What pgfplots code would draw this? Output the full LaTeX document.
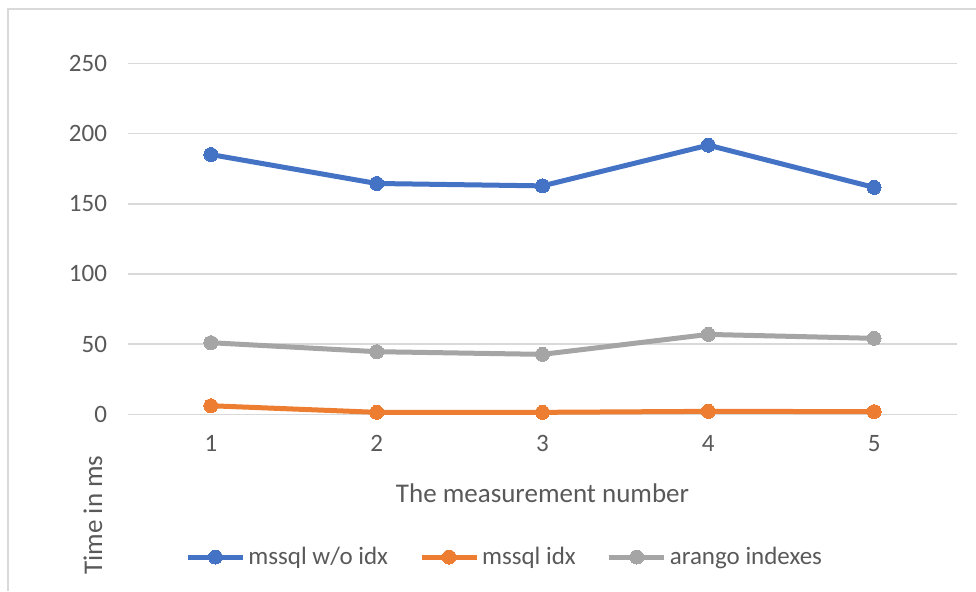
\documentclass[border=0pt]{standalone}
\usepackage{pgfplots}
\pgfplotsset{compat=1.18}
\usepackage{fontspec}
\setmainfont{Carlito}

\definecolor{seriesblue}{HTML}{4472C4}
\definecolor{seriesorange}{HTML}{ED7D31}
\definecolor{seriesgray}{HTML}{A5A5A5}
\definecolor{labelgray}{HTML}{595959}
\definecolor{gridgray}{HTML}{D9D9D9}

\begin{document}
\begin{tikzpicture}
% chart area and its frame
\path[use as bounding box] (0,0) rectangle (488pt,295.5pt);
\draw[gridgray, line width=0.8pt] (4pt,0) -- (4pt,291pt) -- (488pt,291pt);
\begin{axis}[
  at={(64pt,88.35pt)}, anchor=south west,
  scale only axis, width=414.5pt, height=175.5pt,
  xmin=0.5, xmax=5.5, ymin=0, ymax=250,
  xtick={1,2,3,4,5}, ytick={0,50,100,150,200,250},
  axis line style={draw=none},
  ymajorgrids, grid style={gridgray, line width=0.8pt},
  major tick length=0pt,
  tick label style={font=\fontsize{12.5}{14}\selectfont, text=labelgray},
  /pgf/number format/assume math mode=true,
  yticklabel style={xshift=-7pt},
  xticklabel style={yshift=-7pt},
  clip=false,
  xlabel={The measurement number},
  ylabel={Time in ms},
  label style={font=\fontsize{13.5}{16}\selectfont, text=labelgray},
  xlabel style={at={(axis description cs:0.5,-0.224)}, anchor=center},
  ylabel style={at={(axis description cs:-0.0422,-0.287)}, anchor=center, rotate=0},
  legend columns=3,
  legend style={draw=none, fill=none, at={(axis description cs:0.455,-0.4066)}, anchor=center,
    font=\fontsize{12.5}{14}\selectfont, text=labelgray,
    nodes={inner xsep=1.5pt},
    /tikz/every even column/.append style={column sep=14pt}},
  legend image code/.code={
    \draw[#1, mark repeat=2, mark phase=2] plot coordinates {(0pt,0pt) (13.75pt,0pt) (27.5pt,0pt)};},
  every axis plot/.append style={line width=2.5pt, line join=round, mark=*, mark size=3.5pt},
]
\addplot[color=seriesblue, mark options={fill=seriesblue, draw=seriesblue, line width=0pt}]
  coordinates {(1,185.0) (2,164.4) (3,162.7) (4,191.7) (5,161.6)};
\addlegendentry{mssql w/o idx}
\addplot[color=seriesorange, mark options={fill=seriesorange, draw=seriesorange, line width=0pt}]
  coordinates {(1,6.1) (2,1.4) (3,1.4) (4,2.1) (5,1.9)};
\addlegendentry{mssql idx}
\addplot[color=seriesgray, mark options={fill=seriesgray, draw=seriesgray, line width=0pt}]
  coordinates {(1,51.0) (2,44.6) (3,42.7) (4,56.9) (5,54.1)};
\addlegendentry{arango indexes}
\end{axis}
\end{tikzpicture}
\end{document}
